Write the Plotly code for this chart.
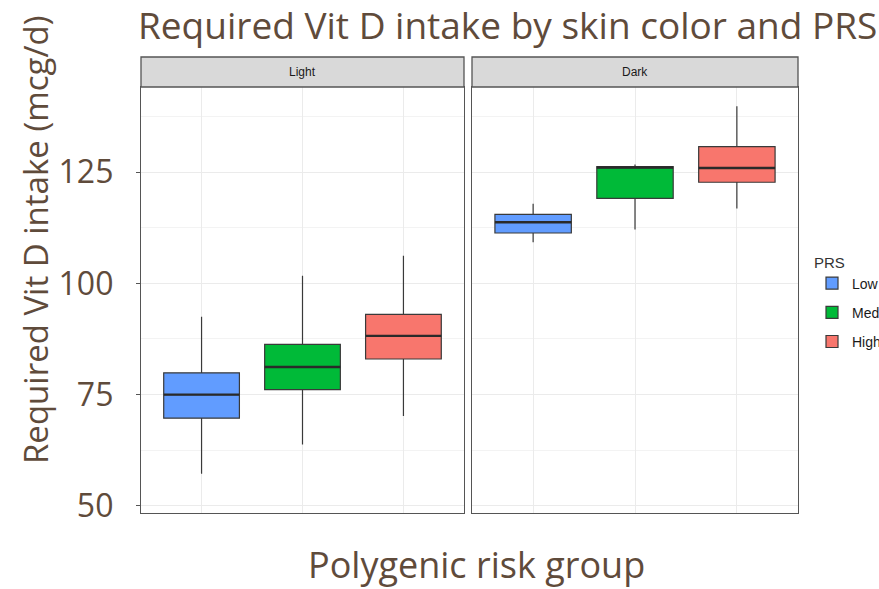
import plotly.graph_objects as go

panels = ["Light", "Dark"]
groups = ["Low", "Medium", "High"]
colors = ["#619CFF", "#00BA38", "#F8766D"]

# box statistics per panel, in order Low, Medium, High
light_low = [57.2, 63.8, 70.2]
light_q1 = [69.7, 76.1, 83.0]
light_med = [75.0, 81.2, 88.2]
light_q3 = [79.9, 86.3, 93.0]
light_high = [92.5, 101.7, 106.2]

dark_low = [109.2, 112.1, 116.8]
dark_q1 = [111.3, 119.1, 122.7]
dark_med = [113.7, 126.0, 125.9]
dark_q3 = [115.5, 126.2, 130.7]
dark_high = [117.9, 126.7, 139.8]

W, H = 879, 589
text_col = "#5f4b3b"
font_main = "Open Sans"

stats = {
    "Light": (light_low, light_q1, light_med, light_q3, light_high),
    "Dark": (dark_low, dark_q1, dark_med, dark_q3, dark_high),
}

fig = go.Figure()
xpos = [1, 2, 3]
bw = 0.75
for pi, p in enumerate(panels):
    lo, q1, md, q3, hi = stats[p]
    xa = "x" if pi == 0 else "x2"
    ya = "y" if pi == 0 else "y2"
    for gi, g in enumerate(groups):
        fig.add_trace(go.Box(
            x=[xpos[gi]], q1=[q1[gi]], median=[md[gi]], q3=[q3[gi]],
            lowerfence=[lo[gi]], upperfence=[hi[gi]],
            width=bw, whiskerwidth=0,
            fillcolor=colors[gi], line=dict(color="#3a3a3a", width=1.2),
            name=g, legendgroup=g, showlegend=(pi == 0),
            xaxis=xa, yaxis=ya, hoverinfo="skip",
        ))
        fig.add_trace(go.Scatter(
            x=[xpos[gi] - bw / 2, xpos[gi] + bw / 2], y=[md[gi], md[gi]],
            mode="lines", line=dict(color="#2a2a2a", width=2.4),
            showlegend=False, xaxis=xa, yaxis=ya, hoverinfo="skip",
        ))

x_dom1 = [141 / W, 464 / W]
x_dom2 = [472 / W, 798 / W]
y_dom = [1 - 513 / H, 1 - 87 / H]
yr = [48.4, 144.1]

xcommon = dict(range=[0.4, 3.6], showticklabels=False, ticks="", tickvals=xpos,
               showgrid=True, gridcolor="#ebebeb", gridwidth=1, zeroline=False,
               showline=True, linecolor="#555555", linewidth=1.3, mirror=True)
ycommon = dict(range=yr, tickvals=[50, 75, 100, 125], showgrid=True,
               gridcolor="#ebebeb", gridwidth=1.2, zeroline=False,
               minor=dict(tickvals=[62.5, 87.5, 112.5, 137.5], showgrid=True,
                          gridcolor="#f3f3f3", gridwidth=0.8),
               showline=True, linecolor="#555555", linewidth=1.3, mirror=True)

fig.update_layout(
    width=W, height=H,
    margin=dict(l=0, r=0, t=0, b=0, autoexpand=False),
    paper_bgcolor="white", plot_bgcolor="white",
    xaxis=dict(domain=x_dom1, **xcommon),
    xaxis2=dict(domain=x_dom2, anchor="y2", **xcommon),
    yaxis=dict(domain=y_dom, anchor="x", ticks="outside", ticklen=4,
               tickcolor="#555555", ticklabelstandoff=16,
               tickfont=dict(family=font_main, size=32, color=text_col), **ycommon),
    yaxis2=dict(domain=y_dom, anchor="x2", showticklabels=False, ticks="", **ycommon),
    boxmode="overlay",
    showlegend=True,
    legend=dict(x=812 / W, y=1 - 248 / H, xanchor="left", yanchor="top",
                title=dict(text="PRS", font=dict(family="Liberation Sans", size=15, color="#333333")),
                font=dict(family="Liberation Sans", size=14, color="#1a1a1a"),
                tracegroupgap=8, itemwidth=30, bgcolor="rgba(0,0,0,0)"),
)

strip_top = 1 - 57 / H
for dom, lab in [(x_dom1, panels[0]), (x_dom2, panels[1])]:
    fig.add_shape(type="rect", xref="paper", yref="paper",
                  x0=dom[0], x1=dom[1], y0=y_dom[1], y1=strip_top,
                  fillcolor="#d9d9d9", line=dict(color="#555555", width=1.3), layer="above")
    fig.add_annotation(x=(dom[0] + dom[1]) / 2, y=(y_dom[1] + strip_top) / 2,
                       xref="paper", yref="paper", text=lab, showarrow=False,
                       xanchor="center", yanchor="middle",
                       font=dict(family="Liberation Sans", size=12, color="#1a1a1a"))

fig.add_annotation(x=507 / W, y=1 - 25 / H, xref="paper", yref="paper",
                   text="Required Vit D intake by skin color and PRS", showarrow=False,
                   xanchor="center", yanchor="middle",
                   font=dict(family=font_main, size=37, color=text_col))
fig.add_annotation(x=476 / W, y=1 - 564 / H, xref="paper", yref="paper",
                   text="Polygenic risk group", showarrow=False,
                   xanchor="center", yanchor="middle",
                   font=dict(family=font_main, size=36, color=text_col))
fig.add_annotation(x=35 / W, y=1 - 240 / H, xref="paper", yref="paper",
                   text="Required Vit D intake (mcg/d)", showarrow=False, textangle=-90,
                   xanchor="center", yanchor="middle",
                   font=dict(family=font_main, size=33, color=text_col))

fig.write_html("out.html")
